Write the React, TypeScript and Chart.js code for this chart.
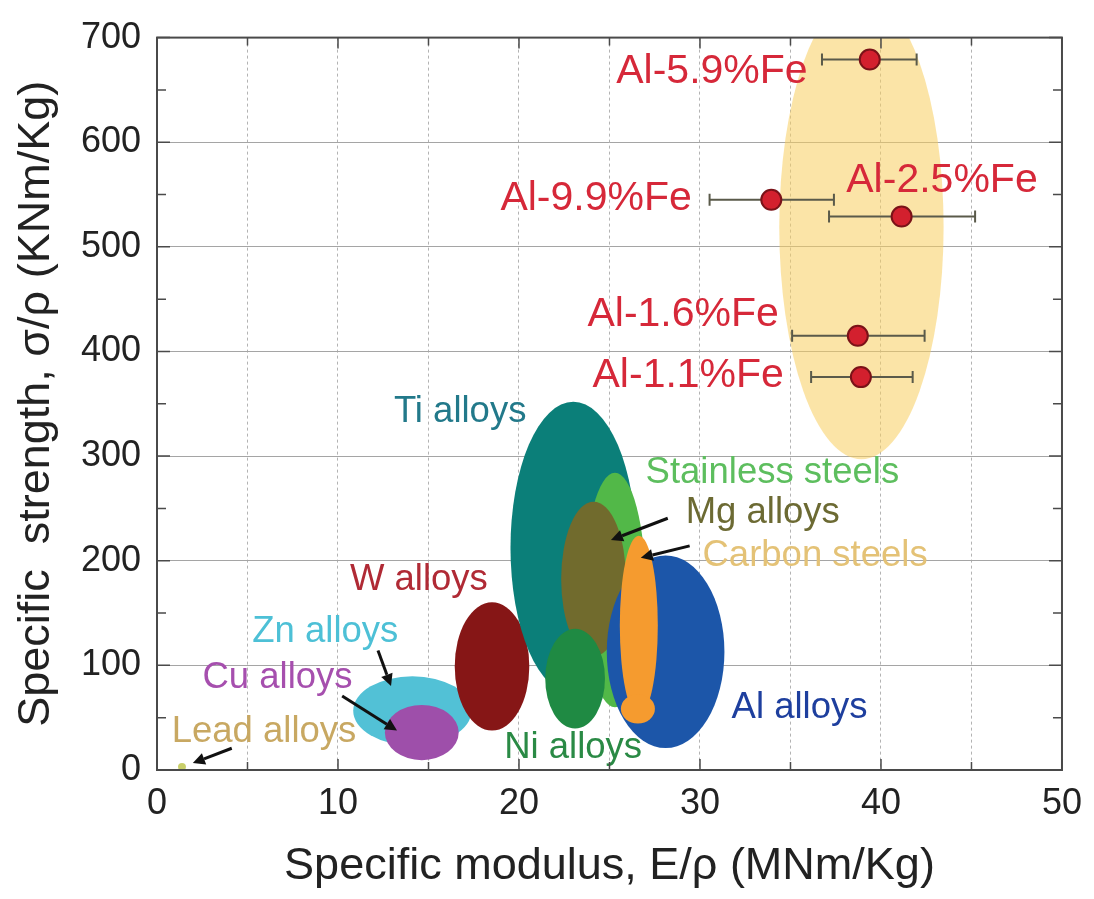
import React, { useEffect, useRef } from 'react';
import { Chart, registerables } from 'chart.js';

Chart.register(...registerables);

// ---------- data ----------
const X_MIN = 0;
const X_MAX = 50;
const Y_MIN = 0;
const Y_MAX = 700;
const X_MINOR_STEP = 5;
const X_LABEL_STEP = 10;
const Y_MINOR_STEP = 50;
const Y_LABEL_STEP = 100;

const ALLOY_NAMES = ['Al-5.9%Fe', 'Al-9.9%Fe', 'Al-2.5%Fe', 'Al-1.6%Fe', 'Al-1.1%Fe'];
const ALLOY_MODULUS = [39.38, 33.94, 41.14, 38.72, 38.89];
const ALLOY_STRENGTH = [679, 545, 529, 415, 375.5];
const MODULUS_ERR_LOW = [36.74, 30.53, 37.13, 35.09, 36.14];
const MODULUS_ERR_HIGH = [41.97, 37.4, 45.2, 42.41, 41.75];

const REGION_NAMES = ['Al-Fe', 'Zn alloys', 'Cu alloys', 'W alloys', 'Ti alloys', 'Stainless steels', 'Mg alloys', 'Ni alloys', 'Al alloys', 'Carbon steels', 'Carbon steels tail', 'Lead alloys'];
const REGION_CX = [38.92, 14.11, 14.63, 18.51, 23.0, 25.3, 24.12, 23.1, 28.1, 26.62, 26.57, 1.38];
const REGION_CY = [519, 56.6, 35.8, 99, 212.3, 172, 182.5, 87.3, 113, 138, 58.5, 3];
const REGION_RX = [4.54, 3.27, 2.04, 2.06, 3.47, 1.7, 1.79, 1.65, 3.25, 1.05, 0.94, 0.22];
const REGION_RY = [222, 33, 26.4, 61.3, 139.6, 112, 74, 47.6, 92, 86, 14, 3.8];

const LABEL_TEXTS = ['Al-5.9%Fe', 'Al-9.9%Fe', 'Al-2.5%Fe', 'Al-1.6%Fe', 'Al-1.1%Fe', 'Ti alloys', 'Stainless steels', 'Mg alloys', 'Carbon steels', 'W alloys', 'Zn alloys', 'Cu alloys', 'Lead alloys', 'Ni alloys', 'Al alloys'];
const LABEL_X = [30.66, 24.26, 43.37, 29.07, 29.35, 16.75, 34.0, 33.47, 36.36, 14.47, 9.3, 6.66, 5.91, 22.99, 35.5];
const LABEL_Y = [667, 546, 563, 435, 377, 342.5, 284, 246, 204.7, 182, 132, 87.7, 36.8, 21.2, 59.4];

const ARROW_FROM_X = [12.21, 10.23, 4.13, 28.22, 29.43];
const ARROW_FROM_Y = [114.2, 70.8, 20.8, 240.6, 214.2];
const ARROW_TO_X = [12.93, 13.26, 1.98, 25.08, 26.73];
const ARROW_TO_Y = [80.2, 37.7, 6.6, 219.8, 202.8];

// ---------- styles ----------
const FONT = "'Liberation Sans', Arial, Helvetica, sans-serif";
const REGION_COLORS = [
  'rgba(248, 205, 95, 0.55)',
  '#52C1D6',
  '#9E4FAA',
  '#861616',
  '#0B7F79',
  '#52B848',
  '#716B2D',
  '#1F8A43',
  '#1C56A9',
  '#F59B2F',
  '#F59B2F',
  '#C9CF6A',
];
const LABEL_COLORS = ['#D62839', '#D62839', '#D62839', '#D62839', '#D62839', '#22798A', '#5DBE5E', '#6C6A33', '#E4C276', '#B02A35', '#4DC0D6', '#A64FAE', '#C8A862', '#2A8A45', '#1E3F9E'];
const LABEL_SIZES = [41, 41, 41, 41, 41, 36.5, 36.5, 36.5, 36.5, 36.5, 36.5, 36.5, 36.5, 36.5, 36.5];

const overlayPlugin = {
  id: 'overlay',
  beforeDatasetsDraw(chart: any) {
    const { ctx, chartArea, scales } = chart;
    const xs = scales.x;
    const ys = scales.y;
    ctx.save();
    ctx.beginPath();
    ctx.rect(chartArea.left, chartArea.top, chartArea.right - chartArea.left, chartArea.bottom - chartArea.top);
    ctx.clip();
    for (let i = 0; i < REGION_NAMES.length; i++) {
      const cx = xs.getPixelForValue(REGION_CX[i]);
      const cy = ys.getPixelForValue(REGION_CY[i]);
      const rx = Math.abs(xs.getPixelForValue(REGION_CX[i] + REGION_RX[i]) - cx);
      const ry = Math.abs(ys.getPixelForValue(REGION_CY[i] + REGION_RY[i]) - cy);
      ctx.beginPath();
      ctx.ellipse(cx, cy, rx, ry, 0, 0, Math.PI * 2);
      ctx.fillStyle = REGION_COLORS[i];
      ctx.fill();
    }
    ctx.restore();

    // error bars
    ctx.save();
    ctx.strokeStyle = '#5a5a4a';
    ctx.lineWidth = 2;
    for (let i = 0; i < ALLOY_NAMES.length; i++) {
      const y = ys.getPixelForValue(ALLOY_STRENGTH[i]);
      const x1 = xs.getPixelForValue(MODULUS_ERR_LOW[i]);
      const x2 = xs.getPixelForValue(MODULUS_ERR_HIGH[i]);
      ctx.beginPath();
      ctx.moveTo(x1, y);
      ctx.lineTo(x2, y);
      ctx.moveTo(x1, y - 6);
      ctx.lineTo(x1, y + 6);
      ctx.moveTo(x2, y - 6);
      ctx.lineTo(x2, y + 6);
      ctx.stroke();
    }
    ctx.restore();
  },
  afterDatasetsDraw(chart: any) {
    const { ctx, chartArea, scales } = chart;
    const xs = scales.x;
    const ys = scales.y;

    // labels
    ctx.save();
    ctx.textAlign = 'center';
    ctx.textBaseline = 'middle';
    for (let i = 0; i < LABEL_TEXTS.length; i++) {
      ctx.font = `${LABEL_SIZES[i]}px ${FONT}`;
      ctx.fillStyle = LABEL_COLORS[i];
      ctx.fillText(LABEL_TEXTS[i], xs.getPixelForValue(LABEL_X[i]), ys.getPixelForValue(LABEL_Y[i]));
    }
    ctx.restore();

    // arrows
    ctx.save();
    ctx.strokeStyle = '#111';
    ctx.fillStyle = '#111';
    ctx.lineWidth = 3;
    for (let i = 0; i < ARROW_FROM_X.length; i++) {
      const x1 = xs.getPixelForValue(ARROW_FROM_X[i]);
      const y1 = ys.getPixelForValue(ARROW_FROM_Y[i]);
      const x2 = xs.getPixelForValue(ARROW_TO_X[i]);
      const y2 = ys.getPixelForValue(ARROW_TO_Y[i]);
      const ang = Math.atan2(y2 - y1, x2 - x1);
      const hl = 12;
      const hw = 6;
      const bx = x2 - hl * Math.cos(ang);
      const by = y2 - hl * Math.sin(ang);
      ctx.beginPath();
      ctx.moveTo(x1, y1);
      ctx.lineTo(bx, by);
      ctx.stroke();
      ctx.beginPath();
      ctx.moveTo(x2, y2);
      ctx.lineTo(bx + hw * Math.sin(ang), by - hw * Math.cos(ang));
      ctx.lineTo(bx - hw * Math.sin(ang), by + hw * Math.cos(ang));
      ctx.closePath();
      ctx.fill();
    }
    ctx.restore();

    // frame and inward ticks
    const { left, right, top, bottom } = chartArea;
    ctx.save();
    ctx.strokeStyle = '#4a4a4a';
    ctx.lineWidth = 2;
    ctx.strokeRect(left, top, right - left, bottom - top);
    ctx.lineWidth = 1.5;
    ctx.beginPath();
    for (let v = X_MIN; v <= X_MAX; v += X_MINOR_STEP) {
      const px = xs.getPixelForValue(v);
      const len = v % X_LABEL_STEP === 0 ? 11 : 8;
      ctx.moveTo(px, bottom);
      ctx.lineTo(px, bottom - len);
      ctx.moveTo(px, top);
      ctx.lineTo(px, top + len);
    }
    for (let v = Y_MIN; v <= Y_MAX; v += Y_MINOR_STEP) {
      const py = ys.getPixelForValue(v);
      const len = v % Y_LABEL_STEP === 0 ? 13 : 9;
      ctx.moveTo(left, py);
      ctx.lineTo(left + len, py);
      ctx.moveTo(right, py);
      ctx.lineTo(right - len, py);
    }
    ctx.stroke();
    ctx.restore();
  },
};

export default function App() {
  const ref = useRef<HTMLCanvasElement>(null);
  useEffect(() => {
    document.body.style.margin = '0';
    Chart.defaults.font.family = FONT;
    const chart = new Chart(ref.current as HTMLCanvasElement, {
      type: 'scatter',
      data: {
        datasets: [
          {
            label: 'Al-Fe alloys',
            data: ALLOY_MODULUS.map((x, i) => ({ x, y: ALLOY_STRENGTH[i] })),
            pointRadius: 10,
            pointBackgroundColor: '#D3202E',
            pointBorderColor: '#7A1218',
            pointBorderWidth: 2,
            clip: false as any,
          },
        ],
      },
      options: {
        animation: false,
        responsive: false,
        layout: { padding: { top: 29, right: 28, left: 0, bottom: 0 } },
        plugins: { legend: { display: false }, tooltip: { enabled: false } },
        scales: {
          x: {
            type: 'linear',
            min: X_MIN,
            max: X_MAX,
            ticks: {
              stepSize: X_MINOR_STEP,
              autoSkip: false,
              maxRotation: 0,
              callback: (v: any) => (Number(v) % X_LABEL_STEP === 0 ? String(v) : ''),
              font: { size: 36 },
              color: '#222',
              padding: 12,
            },
            grid: { color: '#b3b3b3', lineWidth: 1, drawTicks: false },
            border: { display: false, dash: [3, 3] },
            title: {
              display: true,
              text: 'Specific modulus, E/ρ (MNm/Kg)',
              font: { size: 45 },
              color: '#222',
              padding: { top: 0, bottom: 5 },
            },
            afterFit: (s: any) => {
              s.height = 129;
            },
          },
          y: {
            type: 'linear',
            min: Y_MIN,
            max: Y_MAX,
            ticks: {
              stepSize: Y_MINOR_STEP,
              autoSkip: false,
              callback: (v: any) => (Number(v) % Y_LABEL_STEP === 0 ? String(v) : ''),
              font: { size: 36 },
              color: '#222',
              padding: 16,
            },
            grid: {
              color: (c: any) => (c.tick && c.tick.value % Y_LABEL_STEP === 0 ? '#a5a5a5' : 'rgba(0,0,0,0)'),
              lineWidth: 1,
              drawTicks: false,
            },
            border: { display: false },
            title: {
              display: true,
              text: 'Specific  strength, σ/ρ (KNm/Kg)',
              font: { size: 45 },
              color: '#222',
              padding: { top: 10, bottom: 0 },
            },
            afterFit: (s: any) => {
              s.width = 157;
            },
          },
        },
      } as any,
      plugins: [overlayPlugin],
    });
    return () => chart.destroy();
  }, []);
  return (
    <div style={{ width: 1094, height: 899 }}>
      <canvas ref={ref} width={1094} height={899} style={{ display: 'block' }} />
    </div>
  );
}
